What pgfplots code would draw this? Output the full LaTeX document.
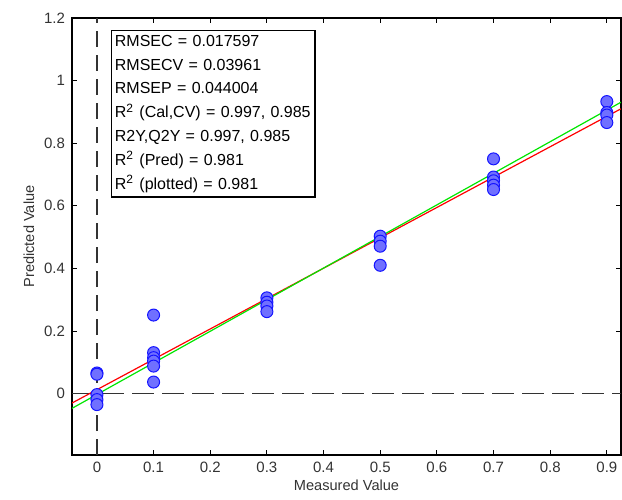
\documentclass[border=0pt]{standalone}
\usepackage{pgfplots}
\pgfplotsset{compat=1.18}
\usepackage{fontspec}
\setmainfont{Liberation Sans}
\definecolor{ptfill}{RGB}{112,112,255}
\definecolor{ptedge}{RGB}{20,20,255}
\definecolor{fitred}{RGB}{255,0,0}
\definecolor{fitgreen}{RGB}{0,230,0}

\begin{document}
\begin{tikzpicture}
\begin{axis}[
    name=ax,
    scale only axis,
    width=274.5pt, height=218.5pt,
    xmin=-0.044, xmax=0.925,
    ymin=-0.196, ymax=1.2,
    xtick={0,0.1,...,0.9},
    ytick={0,0.2,...,1.2},
    xticklabels={0,0.1,0.2,0.3,0.4,0.5,0.6,0.7,0.8,0.9},
    yticklabels={0,0.2,0.4,0.6,0.8,1,1.2},
    tick align=inside,
    major tick length=2.5pt,
    tick style={black, line width=0.5pt},
    axis line style={line width=0.6pt},
    ticklabel style={font=\fontsize{7.5}{8}\selectfont, text=black!80},
    /pgf/number format/assume math mode=true,
    xlabel={Measured Value},
    ylabel={Predicted Value},
    label style={font=\fontsize{7.3}{8}\selectfont, text=black!80},
    xlabel style={yshift=3pt},
    ylabel style={yshift=-2pt},
    clip=true,
]
% dashed reference lines
\addplot[black!80, line width=0.6pt, dash pattern=on 8pt off 4pt] coordinates {(0,-0.196) (0,1.2)};
\addplot[black!80, line width=0.6pt, dash pattern=on 11pt off 4pt] coordinates {(-0.044,0) (0.925,0)};

% samples
\addplot[only marks, mark=*, mark size=3pt,
    mark options={fill=ptfill, draw=ptedge, line width=0.5pt}] coordinates {
    (0,0.066) (0,0.062) (0,-0.003) (0,-0.019) (0,-0.035)
    (0.1,0.251) (0.1,0.131) (0.1,0.115) (0.1,0.104) (0.1,0.088) (0.1,0.037)
    (0.3,0.306) (0.3,0.292) (0.3,0.280) (0.3,0.262)
    (0.5,0.503) (0.5,0.487) (0.5,0.471) (0.5,0.410)
    (0.7,0.750) (0.7,0.692) (0.7,0.680) (0.7,0.666) (0.7,0.652)
    (0.9,0.933) (0.9,0.898) (0.9,0.890) (0.9,0.866)
};

% fit lines
\addplot[fitred, line width=0.6pt] coordinates {(-0.044,-0.030) (0.925,0.910)};
\addplot[fitgreen, line width=0.6pt] coordinates {(-0.044,-0.047) (0.925,0.931)};

\node[draw=black, line width=0.6pt, fill=white, anchor=north west,
      inner xsep=1.6pt, inner ysep=2.2pt, text width=98.5pt, align=left,
      font=\fontsize{8}{11.9}\selectfont]
    at (axis cs:0.025,1.161) {%
RMSEC = 0.017597\\
RMSECV = 0.03961\\
RMSEP = 0.044004\\
R\textsuperscript{2} (Cal,CV) = 0.997, 0.985\\
R2Y,Q2Y = 0.997, 0.985\\
R\textsuperscript{2} (Pred) = 0.981\\
R\textsuperscript{2} (plotted) = 0.981};
\end{axis}
\pgfresetboundingbox
\path[use as bounding box] ([xshift=-36pt,yshift=-22pt]ax.south west) rectangle ([xshift=0.5pt,yshift=9pt]ax.north east);
\end{tikzpicture}
\end{document}
